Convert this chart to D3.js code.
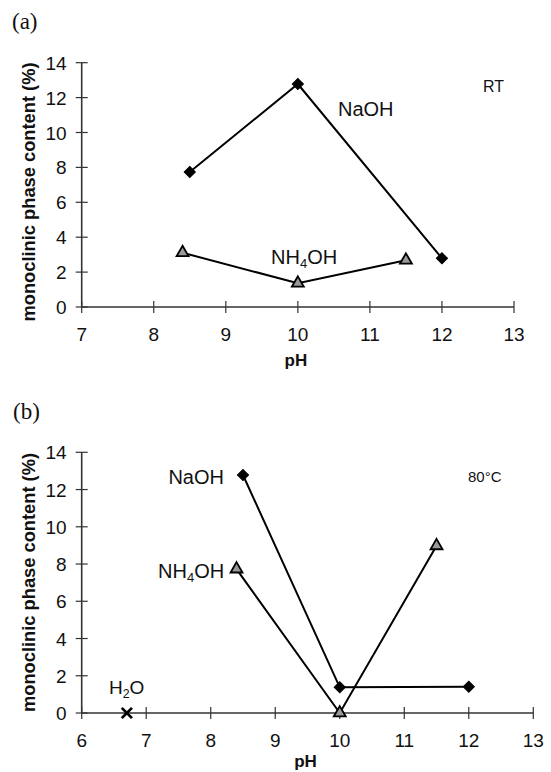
<!DOCTYPE html>
<html>
<head>
<meta charset="utf-8">
<script src="https://cdn.jsdelivr.net/npm/d3@7"></script>
<style>
  body { margin: 0; background: #fff; }
  svg text { font-family: "Liberation Sans", Arial, sans-serif; fill: #111; }
</style>
</head>
<body>
<div id="chart"></div>
<script>
// ---- data ----
// (a) room temperature
var rtNaohPH = [8.5, 10, 12];
var rtNaohVal = [7.74, 12.78, 2.79];
var rtNh4PH = [8.4, 10, 11.5];
var rtNh4Val = [3.11, 1.36, 2.68];
var rtXTicks = [7, 8, 9, 10, 11, 12, 13];

// (b) 80 C
var hotNaohPH = [8.5, 10, 12];
var hotNaohVal = [12.78, 1.38, 1.41];
var hotNh4PH = [8.4, 10, 11.5];
var hotNh4Val = [7.73, 0, 8.98];
var h2oPH = [6.7];
var h2oVal = [0];
var hotXTicks = [6, 7, 8, 9, 10, 11, 12, 13];

var yTicks = [0, 2, 4, 6, 8, 10, 12, 14];

var svg = d3.select("#chart").append("svg")
  .attr("width", 551).attr("height", 772);

function zip(xs, ys) { return xs.map(function(x, i) { return {x: x, y: ys[i]}; }); }

// draw one panel
function panel(opt) {
  var g = svg.append("g");
  var x = d3.scaleLinear().domain(opt.xDomain).range(opt.xRange);
  var y = d3.scaleLinear().domain([0, 14]).range(opt.yRange);

  // y axis with crossing ticks
  g.append("line").attr("x1", x(opt.xDomain[0])).attr("x2", x(opt.xDomain[0]))
    .attr("y1", y(0)).attr("y2", y(14)).attr("stroke", "#333").attr("stroke-width", 1.6);
  g.selectAll(".yt").data(yTicks).enter().append("line")
    .attr("x1", x(opt.xDomain[0]) - 6).attr("x2", x(opt.xDomain[0]) + 6)
    .attr("y1", function(d) { return y(d); }).attr("y2", function(d) { return y(d); })
    .attr("stroke", "#333").attr("stroke-width", 1.2);
  g.selectAll(".yl").data(yTicks).enter().append("text")
    .attr("x", x(opt.xDomain[0]) - 15).attr("y", function(d) { return y(d) + 7; })
    .attr("text-anchor", "end").attr("font-size", 19).text(function(d) { return d; });

  // x axis
  g.append("line").attr("x1", x(opt.xDomain[0])).attr("x2", x(opt.xDomain[1]))
    .attr("y1", y(0)).attr("y2", y(0)).attr("stroke", "#333").attr("stroke-width", 1.6);
  g.selectAll(".xt").data(opt.xTicks).enter().append("line")
    .attr("x1", function(d) { return x(d); }).attr("x2", function(d) { return x(d); })
    .attr("y1", y(0) - 6).attr("y2", y(0) + 6)
    .attr("stroke", "#333").attr("stroke-width", 1.2);
  g.selectAll(".xl").data(opt.xTicks).enter().append("text")
    .attr("x", function(d) { return x(d); }).attr("y", y(0) + 34)
    .attr("text-anchor", "middle").attr("font-size", 19).text(function(d) { return d; });

  g.append("text").attr("x", (x(opt.xDomain[0]) + x(opt.xDomain[1])) / 2 - 2).attr("y", opt.phY)
    .attr("text-anchor", "middle").attr("font-size", 17).attr("font-weight", "bold").text("pH");

  g.append("text")
    .attr("transform", "translate(35," + opt.ylabY + ") rotate(-90)")
    .attr("text-anchor", "middle").attr("font-size", 17.5).attr("font-weight", "bold")
    .attr("textLength", 259).attr("lengthAdjust", "spacingAndGlyphs")
    .text("monoclinic phase content (%)");

  g.append("text").attr("x", opt.tagX).attr("y", opt.tagY)
    .style("font-family", "'Liberation Serif', 'Times New Roman', serif")
    .attr("font-size", 23).text(opt.tag);

  var line = d3.line().x(function(d) { return x(d.x); }).y(function(d) { return y(d.y); });

  opt.series.forEach(function(s) {
    var pts = zip(s.xs, s.ys);
    if (pts.length > 1) {
      g.append("path").datum(pts).attr("d", line)
        .attr("fill", "none").attr("stroke", "#000").attr("stroke-width", 2);
    }
    g.selectAll(null).data(pts).enter().append("path")
      .attr("transform", function(d) { return "translate(" + x(d.x) + "," + y(d.y) + ")" + (s.rot ? " rotate(" + s.rot + ")" : ""); })
      .attr("d", d3.symbol().type(s.sym).size(s.size))
      .attr("fill", s.fill).attr("stroke", s.stroke).attr("stroke-width", s.sw);
  });

  opt.labels.forEach(function(l) {
    var t = g.append("text").attr("x", l.x).attr("y", l.y)
      .attr("font-size", l.size).attr("text-anchor", l.anchor || "start");
    if (l.sub) {
      t.append("tspan").text(l.pre);
      t.append("tspan").attr("font-size", l.size * 0.65).attr("dy", 4).text(l.sub);
      t.append("tspan").attr("dy", -4).text(l.post);
    } else {
      t.text(l.text);
    }
  });
}

var diamond = {sym: d3.symbolSquare, size: 62, fill: "#000", stroke: "#000", sw: 1, rot: 45};
var tri = {sym: d3.symbolTriangle, size: 62, fill: "#999", stroke: "#000", sw: 1.8};
var timesSym = d3.symbolTimes || d3.symbolCross;

panel({
  xDomain: [7, 13], xRange: [81.7, 514], yRange: [307, 62.7],
  xTicks: rtXTicks, phY: 366, ylabY: 192, tag: "(a)", tagX: 12, tagY: 29,
  series: [
    Object.assign({xs: rtNaohPH, ys: rtNaohVal}, diamond),
    Object.assign({xs: rtNh4PH, ys: rtNh4Val}, tri)
  ],
  labels: [
    {x: 338, y: 116, size: 20, text: "NaOH"},
    {x: 271, y: 264, size: 20, pre: "NH", sub: "4", post: "OH"},
    {x: 483, y: 92, size: 16, text: "RT"}
  ]
});

panel({
  xDomain: [6, 13], xRange: [81.7, 533.3], yRange: [713, 452.3],
  xTicks: hotXTicks, phY: 767, ylabY: 582.5, tag: "(b)", tagX: 13, tagY: 419,
  series: [
    Object.assign({xs: hotNaohPH, ys: hotNaohVal}, diamond),
    Object.assign({xs: hotNh4PH, ys: hotNh4Val}, tri),
    {xs: h2oPH, ys: h2oVal, sym: timesSym, size: 70, fill: "#000", stroke: "#000", sw: 2.8,
     rot: d3.symbolTimes ? 0 : 45}
  ],
  labels: [
    {x: 224, y: 484, size: 20, text: "NaOH", anchor: "end"},
    {x: 158, y: 578, size: 20, pre: "NH", sub: "4", post: "OH"},
    {x: 109, y: 694, size: 19, pre: "H", sub: "2", post: "O"},
    {x: 468, y: 482, size: 15, text: "80°C"}
  ]
});
</script>
</body>
</html>
